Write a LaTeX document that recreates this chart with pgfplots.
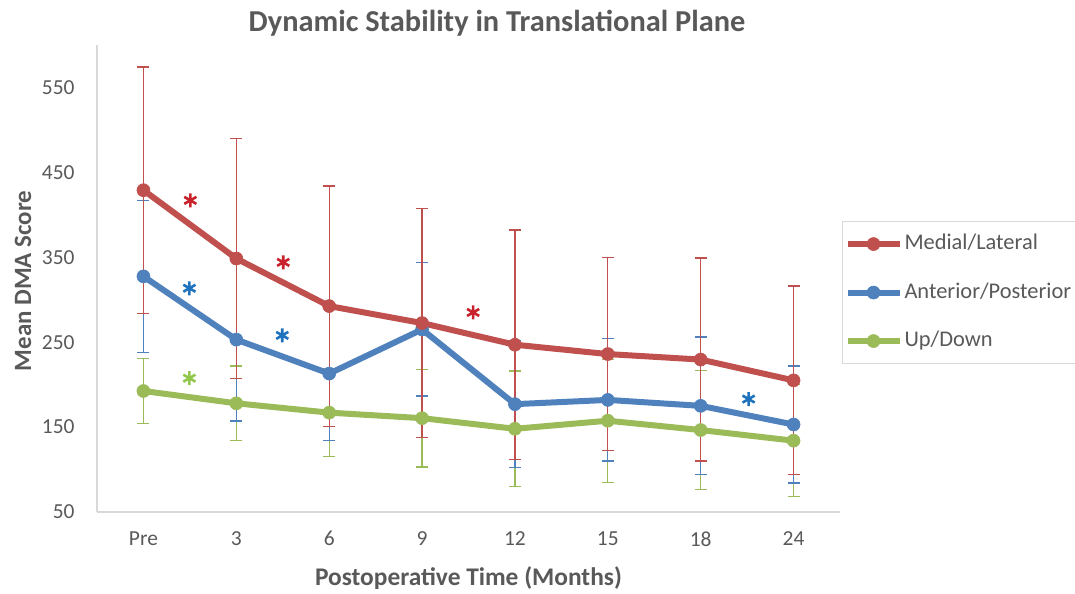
\documentclass[border=0pt]{standalone}
\usepackage{pgfplots}
\pgfplotsset{compat=1.18}
\usepackage{fontspec}
\setmainfont{Carlito}
\definecolor{cred}{HTML}{C0504D}
\definecolor{cblue}{HTML}{4F81BD}
\definecolor{cgreen}{HTML}{9BBB59}
\definecolor{sred}{HTML}{C8232D}
\definecolor{sblue}{HTML}{1F73BE}
\definecolor{sgreen}{HTML}{92C84A}
\definecolor{txt}{HTML}{595959}
\definecolor{axgray}{HTML}{D9D9D9}

\pgfplotstableread{
x y e
0 429 145
1 348.5 141
2 292.5 141.5
3 272.5 135
4 247 135
5 236 113.5
6 229.5 119.5
7 205 111
}\red
\pgfplotstableread{
x y e
0 327.5 89.5
1 253 96
2 213 78.5
3 265 78.5
4 177 75
5 182 72
6 175 81
7 153 69
}\blue
\pgfplotstableread{
x y e
0 192.5 38.5
1 178 44
2 167 52
3 160.5 57.5
4 148 68
5 157.5 72.5
6 146.5 70
7 134 66
}\green

\begin{document}
\begin{tikzpicture}[x=1bp,y=1bp]
\useasboundingbox (0,0) rectangle (1075,594);
\begin{axis}[
  at={(97bp,82bp)}, anchor=south west,
  scale only axis, width=743bp, height=467bp,
  xmin=-0.5, xmax=7.5, ymin=50, ymax=600,
  xtick={0,...,7}, xticklabels={Pre,3,6,9,12,15,18,24},
  ytick={50,150,...,550},
  axis x line*=bottom, axis y line*=left,
  axis line style={axgray, line width=1.5bp, -},
  major tick length=0,
  tick label style={font=\fontsize{21.5}{25}\selectfont, text=txt},
  /pgf/number format/assume math mode=true,
  yticklabel style={anchor=east, xshift=-19bp},
  xticklabel style={yshift=-16bp},
  reverse legend,
  legend cell align=left,
  legend style={at={(axis description cs:1.0027,0.623)}, anchor=north west,
    draw=axgray, line width=1bp, fill=white,
    font=\fontsize{22.5}{26}\selectfont, text=txt,
    inner xsep=2bp, inner ysep=11bp, row sep=25.5bp,
    nodes={inner sep=2bp, text height=15bp, text depth=4bp}},
  legend image code/.code={
    \draw[mark repeat=2, mark phase=2] plot coordinates {(0bp,0bp) (26bp,0bp) (52bp,0bp)};},
  every axis plot/.append style={line width=6bp, mark=*, mark size=6.5bp},
  error bars/y dir=both, error bars/y explicit,
  error bars/error mark=|,
]
\addplot[cgreen, mark options={solid, fill=cgreen, line width=0.6bp},
  error bars/error bar style={line width=1.3bp, cgreen},
  error bars/error mark options={cgreen, line width=1.3bp, mark size=6bp}]
  table[x=x, y=y, y error=e] {\green};
\addlegendentry{Up/Down}
\addplot[cblue, mark options={solid, fill=cblue, line width=0.6bp},
  error bars/error bar style={line width=1.3bp, cblue},
  error bars/error mark options={cblue, line width=1.3bp, mark size=6bp}]
  table[x=x, y=y, y error=e] {\blue};
\addlegendentry{Anterior/Posterior}
\addplot[cred, mark options={solid, fill=cred, line width=0.6bp},
  error bars/error bar style={line width=1.3bp, cred},
  error bars/error mark options={cred, line width=1.3bp, mark size=6bp}]
  table[x=x, y=y, y error=e] {\red};
\addlegendentry{Medial/Lateral}
\addplot[forget plot, only marks, mark=asterisk, mark size=7bp, line width=2.6bp, sred,
  error bars/y dir=none]
  coordinates {(0.505,417) (1.505,344) (3.55,285)};
\addplot[forget plot, only marks, mark=asterisk, mark size=7bp, line width=2.6bp, sblue,
  error bars/y dir=none]
  coordinates {(0.495,313.5) (1.495,258) (6.516,183)};
\addplot[forget plot, only marks, mark=asterisk, mark size=7bp, line width=2.6bp, sgreen,
  error bars/y dir=none]
  coordinates {(0.495,207.6)};
\end{axis}
\node[anchor=base, text=txt, font=\fontsize{30.5}{34}\selectfont\bfseries] at (497,562) {Dynamic Stability in Translational Plane};
\node[anchor=center, text=txt, font=\fontsize{25.5}{30}\selectfont\bfseries] at (468.5,16) {Postoperative Time (Months)};
\node[anchor=center, rotate=90, text=txt, font=\fontsize{25}{29}\selectfont\bfseries] at (23,313) {Mean DMA Score};
\end{tikzpicture}
\end{document}
